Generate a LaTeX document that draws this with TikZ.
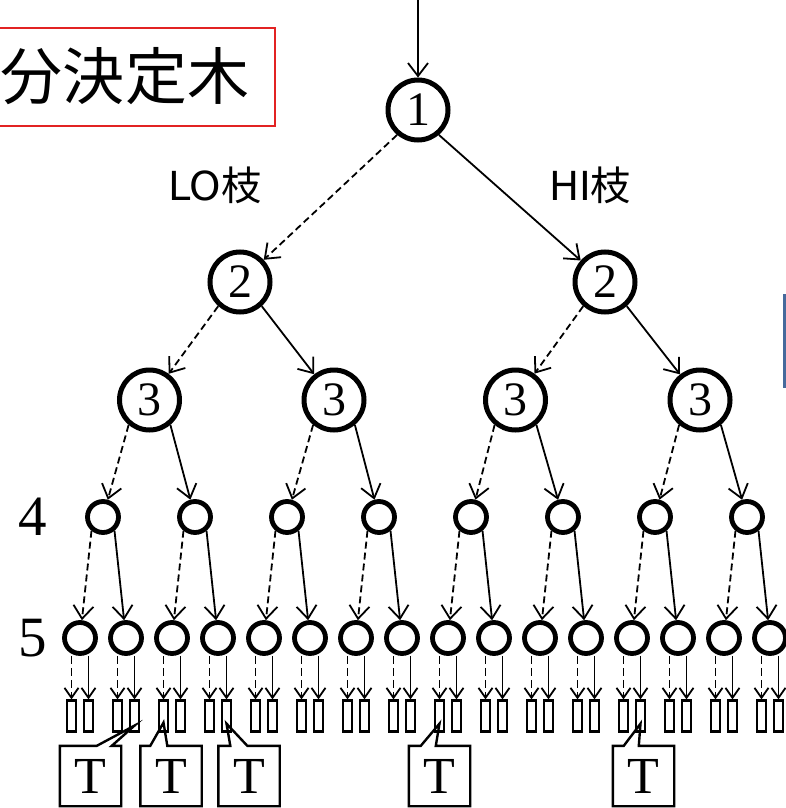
\documentclass[tikz,border=0pt]{standalone}
\usepackage{fontspec}
\setmainfont{Liberation Serif}
\newfontfamily\jpfont{Noto Sans CJK JP}
\newfontfamily\latfont{DejaVu Sans}
\usetikzlibrary{arrows.meta,calc}
\definecolor{titlered}{RGB}{226,35,35}
\definecolor{barblue}{RGB}{70,106,156}
\begin{document}
\begin{tikzpicture}[x=1pt,y=-1pt,
  bignode/.style={circle,draw,line width=5pt,minimum size=60pt,inner sep=0pt,font=\fontsize{48}{48}\selectfont},
  smallnode/.style={circle,draw,line width=4.8pt,minimum size=31pt,inner sep=0pt},
  leafbox/.style={rectangle,draw,line width=2.2pt,minimum width=9pt,minimum height=31pt,inner sep=0pt},
  hi/.style={line width=1.8pt,-{Straight Barb[length=13pt,width=20pt,line width=1.8pt]}},
  lo/.style={hi,dash pattern=on 7pt off 4pt},
  leafhi/.style={line width=1.8pt,-{Straight Barb[length=10pt,width=14pt,line width=1.8pt]}},
  leaflo/.style={leafhi,dash pattern=on 8pt off 4pt},
  tbox/.style={minimum width=61pt,minimum height=60pt,inner sep=0pt,font=\fontsize{52}{52}\selectfont},
  callout/.style={draw,line width=2.4pt,line join=miter},
  levellab/.style={font=\fontsize{57}{57}\selectfont},
  branchlab/.style={font=\fontsize{40}{40}\selectfont}
]
\useasboundingbox (0,0) rectangle (786,808);

% title
\draw[titlered,line width=1.8pt] (-5,28) rectangle (275,126);
\node[font=\jpfont\fontsize{62}{62}\selectfont] (title) at (125,76) {分決定木};

% blue bar at right edge
\draw[barblue,line width=3pt] (784.5,294) -- (784.5,388);

% branch labels
\node[branchlab] (lolab) at (215,185) {{\latfont LO}{\jpfont 枝}};
\node[branchlab] (hilab) at (590,185) {{\latfont HI}{\jpfont 枝}};

% level labels
\node[levellab] (lab4) at (33,517) {4};
\node[levellab] (lab5) at (33,638) {5};

% tree nodes
\coordinate (top) at (418,0);
\node[bignode] (a) at (418,110) {1};
\node[bignode] (b0) at (240,282) {2};
\node[bignode] (b1) at (605,282) {2};
\node[bignode] (c0) at (149.5,400) {3};
\node[bignode] (c1) at (334,400) {3};
\node[bignode] (c2) at (515.5,400) {3};
\node[bignode] (c3) at (700,400) {3};
\foreach \j in {0,...,7} {\node[smallnode] (d\j) at ({103+92*\j},517) {};}
\foreach \i in {0,...,15} {\node[smallnode] (e\i) at ({80+46*\i},638) {};}

% edges
\draw[hi] (top) -- (a);
\draw[lo] (a.230) -- (b0);
\draw[hi] (a.310) -- (b1);
\draw[lo] (b0.228) -- (c0);
\draw[hi] (b0.312) -- (c1);
\draw[lo] (b1.228) -- (c2);
\draw[hi] (b1.312) -- (c3);
\foreach \k in {0,...,3} {
  \pgfmathtruncatemacro\lc{2*\k}\pgfmathtruncatemacro\rc{2*\k+1}
  \draw[lo] (c\k.230) -- (d\lc);
  \draw[hi] (c\k.310) -- (d\rc);
}
\foreach \j in {0,...,7} {
  \pgfmathtruncatemacro\lc{2*\j}\pgfmathtruncatemacro\rc{2*\j+1}
  \draw[lo] (d\j.230) -- (e\lc);
  \draw[hi] (d\j.310) -- (e\rc);
}

% leaves
\foreach \i in {0,...,15} {
  \pgfmathtruncatemacro\lc{2*\i}\pgfmathtruncatemacro\rc{2*\i+1}
  \node[leafbox] (l\lc) at ({80+46*\i-8.5},716) {};
  \node[leafbox] (l\rc) at ({80+46*\i+8.5},716) {};
  \draw[leaflo] (l\lc.north |- e\i.south) -- (l\lc.north);
  \draw[leafhi] (l\rc.north |- e\i.south) -- (l\rc.north);
}

% T callouts
\node[tbox] (t1) at (90.5,776) {T};
\node[tbox] (t2) at (171,776) {T};
\node[tbox] (t3) at (249,776) {T};
\node[tbox] (t4) at (439.5,776) {T};
\node[tbox] (t5) at (643.5,776) {T};
\draw[callout] (t1.south west) -- (t1.north west) -- ($(t1.north west)+(37,0)$) -- ($(l3.south)+(0,-7)$) -- ($(t1.north west)+(52,0)$) -- (t1.north east) -- (t1.south east) -- cycle;
\draw[callout] (t2.south west) -- (t2.north west) -- ($(t2.north west)+(10,0)$) -- ($(l4.south)+(0,-10)$) -- ($(t2.north west)+(27,0)$) -- (t2.north east) -- (t2.south east) -- cycle;
\draw[callout] (t3.south west) -- (t3.north west) -- ($(t3.north west)+(12,0)$) -- ($(l7.south)+(0,-9)$) -- ($(t3.north west)+(29,0)$) -- (t3.north east) -- (t3.south east) -- cycle;
\draw[callout] (t4.south west) -- (t4.north west) -- ($(t4.north west)+(12,0)$) -- ($(l16.south)+(0,-9)$) -- ($(t4.north west)+(27,0)$) -- (t4.north east) -- (t4.south east) -- cycle;
\draw[callout] (t5.south west) -- (t5.north west) -- ($(t5.north west)+(11,0)$) -- ($(l25.south)+(0,-9)$) -- ($(t5.north west)+(26,0)$) -- (t5.north east) -- (t5.south east) -- cycle;
\end{tikzpicture}
\end{document}
